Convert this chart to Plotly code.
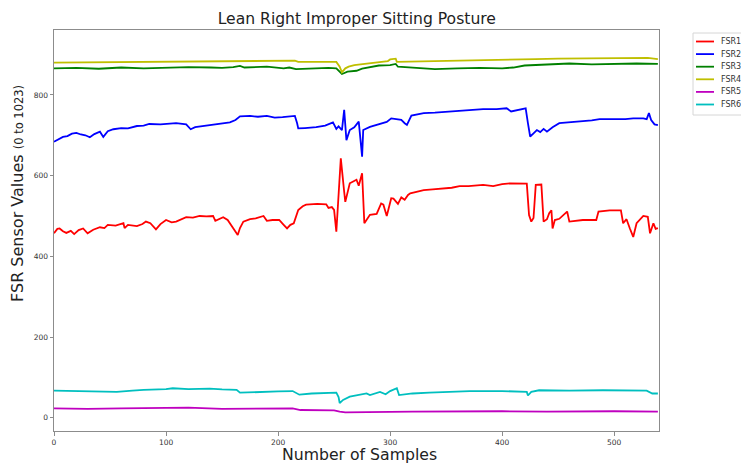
import plotly.graph_objects as go

# ---- FSR readings: (sample index, value) pairs for each sensor ----
fsr1_x = [0, 3, 5, 8, 11, 15, 18, 22, 26, 30, 35, 41, 45, 48, 55, 62, 63, 66, 74, 79, 82, 86, 91, 95,
          100, 105, 109, 114, 118, 124, 130, 136, 142, 144, 148, 151, 155, 157, 160, 164, 166, 169,
          175, 180, 187, 190, 195, 201, 205, 208, 211, 214, 218, 222, 225, 235, 243, 245, 248, 250,
          252, 256, 259, 260, 264, 268, 270, 272, 275, 277, 282, 288, 292, 294, 297, 301, 303, 307,
          310, 313, 316, 318, 324, 330, 338, 347, 355, 362, 370, 383, 392, 400, 407, 422, 424, 426,
          428, 430, 435, 437, 440, 442, 444, 445, 447, 451, 458, 460, 472, 484, 486, 496, 506, 508,
          511, 514, 517, 520, 523, 526, 530, 532, 535, 537, 539]
fsr1_y = [457, 468, 469, 462, 458, 463, 455, 465, 469, 457, 466, 472, 470, 478, 476, 482, 470, 478,
          475, 480, 486, 482, 467, 480, 490, 484, 486, 492, 497, 496, 500, 499, 500, 488, 494, 497,
          490, 482, 470, 453, 470, 486, 492, 494, 500, 488, 490, 490, 478, 469, 478, 482, 515, 524,
          528, 530, 529, 520, 522, 515, 461, 643, 560, 535, 581, 586, 590, 575, 606, 482, 503, 505,
          531, 528, 500, 544, 543, 530, 546, 540, 552, 556, 560, 564, 566, 568, 570, 574, 574, 577,
          574, 579, 581, 580, 502, 486, 495, 577, 578, 486, 492, 507, 514, 469, 490, 493, 511, 486,
          490, 490, 511, 514, 514, 482, 492, 469, 448, 482, 490, 500, 498, 457, 482, 468, 470]

fsr2_x = [0, 4, 8, 12, 16, 20, 24, 28, 32, 36, 41, 44, 48, 53, 60, 66, 74, 80, 85, 95, 104, 109,
          118, 122, 126, 133, 140, 148, 157, 162, 166, 175, 182, 190, 197, 204, 210, 215, 217, 218,
          224, 234, 242, 249, 252, 254, 257, 259, 261, 264, 268, 272, 275, 276, 282, 291, 297, 301,
          305, 310, 313, 315, 319, 326, 330, 340, 353, 365, 383, 395, 404, 408, 414, 421, 423, 425,
          428, 431, 434, 437, 440, 445, 451, 460, 472, 480, 487, 500, 510, 517, 526, 529, 531, 533,
          536, 539]
fsr2_y = [684, 690, 696, 698, 704, 706, 702, 700, 695, 703, 709, 696, 710, 715, 718, 717, 723, 724,
          728, 727, 729, 730, 727, 715, 720, 723, 725, 729, 732, 738, 747, 748, 746, 748, 744, 745,
          746, 748, 730, 717, 718, 720, 724, 732, 716, 722, 713, 763, 688, 713, 720, 734, 647, 713,
          721, 729, 733, 742, 740, 738, 730, 726, 749, 752, 755, 756, 759, 761, 765, 765, 767, 759,
          763, 767, 730, 697, 705, 713, 708, 716, 709, 720, 730, 732, 736, 737, 740, 739, 740, 742,
          742, 740, 755, 738, 727, 725]

fsr3_x = [0, 20, 40, 60, 80, 100, 120, 140, 150, 160, 166, 170, 190, 205, 210, 216, 230, 245, 252,
          255, 257, 262, 270, 275, 280, 290, 300, 305, 307, 320, 340, 360, 380, 400, 410, 420, 431,
          440, 460, 480, 500, 520, 539]
fsr3_y = [866, 867, 865, 868, 866, 867, 869, 868, 867, 869, 872, 868, 870, 866, 868, 864, 866, 867,
          866, 857, 852, 858, 860, 865, 868, 873, 874, 877, 870, 868, 864, 866, 867, 866, 868, 873,
          874, 876, 878, 876, 877, 878, 877]

fsr4_x = [0, 50, 100, 150, 200, 215, 218, 240, 252, 255, 257, 260, 263, 268, 275, 285, 298, 300,
          305, 306, 320, 350, 380, 400, 430, 450, 480, 500, 520, 530, 539]
fsr4_y = [880, 881, 882, 883, 884, 885, 882, 882, 882, 870, 856, 866, 870, 874, 876, 880, 884, 888,
          890, 882, 883, 885, 886, 887, 889, 890, 891, 892, 893, 892, 889]

fsr5_x = [0, 30, 60, 100, 120, 150, 200, 213, 220, 250, 255, 260, 280, 300, 320, 400, 420, 440,
          500, 539]
fsr5_y = [23, 22, 23, 25, 25, 22, 22, 23, 19, 18, 15, 13, 14, 15, 15, 16, 15, 15, 16, 15]

fsr6_x = [0, 20, 40, 56, 70, 80, 100, 106, 120, 139, 150, 163, 166, 180, 200, 213, 219, 230, 252,
          254, 255, 258, 264, 279, 282, 291, 296, 300, 306, 308, 320, 335, 350, 371, 400, 422, 423,
          426, 433, 460, 490, 529, 534, 539]
fsr6_y = [67, 66, 65, 64, 67, 69, 71, 73, 71, 72, 70, 69, 62, 64, 65, 66, 57, 60, 62, 51, 36, 44,
          52, 60, 56, 64, 58, 66, 73, 56, 60, 62, 64, 66, 66, 64, 55, 64, 68, 67, 68, 67, 60, 60]

series_names = ["FSR1", "FSR2", "FSR3", "FSR4", "FSR5", "FSR6"]
series_x = [fsr1_x, fsr2_x, fsr3_x, fsr4_x, fsr5_x, fsr6_x]
series_y = [fsr1_y, fsr2_y, fsr3_y, fsr4_y, fsr5_y, fsr6_y]
colors = ["#ff0000", "#0000ff", "#008000", "#bfbf00", "#bf00bf", "#00bfbf"]

x_ticks = [0, 100, 200, 300, 400, 500]
y_ticks = [0, 200, 400, 600, 800]

FONT = "DejaVu Sans"

fig = go.Figure()
for name, xs, ys, col in zip(series_names, series_x, series_y, colors):
    fig.add_trace(go.Scatter(x=xs, y=ys, mode="lines", name=name,
                             line=dict(color=col, width=1.8), showlegend=False))

axis_common = dict(showline=True, mirror=True, linecolor="#8c8c8c", linewidth=1,
                   ticks="outside", ticklen=3.5, tickcolor="#8c8c8c", tickwidth=1,
                   showgrid=False, zeroline=False,
                   tickfont=dict(family=FONT, size=7.5, color="#333333"))

fig.update_layout(
    width=741, height=463,
    margin=dict(l=54, r=82, t=30, b=32),
    paper_bgcolor="white", plot_bgcolor="white",
    font=dict(family=FONT, color="#222222"),
    title=dict(text="Lean Right Improper Sitting Posture", x=0.4815, xanchor="center",
               y=0.960, yanchor="middle", font=dict(family=FONT, size=15.6, color="#222222")),
    xaxis=dict(range=[0, 540], tickvals=x_ticks, **axis_common),
    yaxis=dict(range=[-33, 961], tickvals=y_ticks, **axis_common),
)

# x-axis label
fig.add_annotation(text="Number of Samples", xref="paper", yref="paper",
                   x=0.5045, y=-0.059, xanchor="center", yanchor="middle", showarrow=False,
                   font=dict(family=FONT, size=15.7, color="#222222"))

# y-axis label with a smaller range note
fig.add_annotation(text="FSR Sensor Values <span style='font-size:11.5px'>(0 to 1023)</span>",
                   xref="paper", yref="paper", x=-0.060, y=0.593, textangle=-90,
                   xanchor="center", yanchor="middle", showarrow=False,
                   font=dict(family=FONT, size=16, color="#222222"))

# Legend box drawn outside the plot on the right
px_w, px_h, px_l, px_b = 605.0, 401.0, 54.0, 431.0
def px2paper(px, py):
    return (px - px_l) / px_w, (px_b - py) / px_h

bx0, by0 = px2paper(693, 115)
bx1, by1 = px2paper(752, 33)
fig.add_shape(type="rect", xref="paper", yref="paper", x0=bx0, y0=by0, x1=bx1, y1=by1,
              line=dict(color="#d6d6d6", width=1), fillcolor="white", layer="above")
for i, (name, col) in enumerate(zip(series_names, colors)):
    ypx = 41.5 + 12.6 * i
    lx0, ly = px2paper(696, ypx)
    lx1, _ = px2paper(714, ypx)
    tx, _ = px2paper(719, ypx)
    fig.add_shape(type="line", xref="paper", yref="paper", x0=lx0, x1=lx1, y0=ly, y1=ly,
                  line=dict(color=col, width=1.8), layer="above")
    fig.add_annotation(text=name, xref="paper", yref="paper", x=tx, y=ly,
                       xanchor="left", yanchor="middle", showarrow=False,
                       font=dict(family=FONT, size=8, color="#333333"))

fig.write_html("out.html")
